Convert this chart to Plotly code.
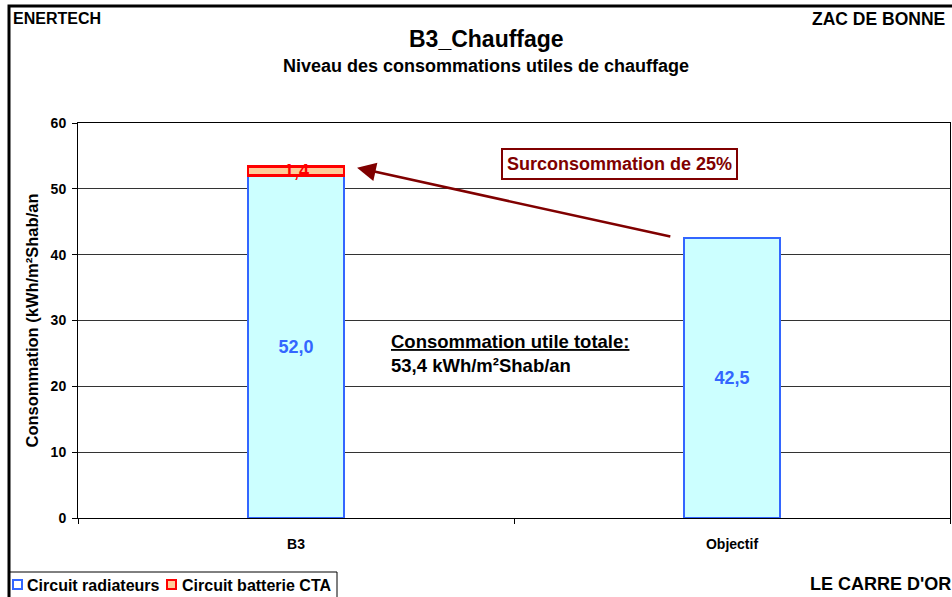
import plotly.graph_objects as go

categories = ["B3", "Objectif"]
series_names = ["Circuit radiateurs", "Circuit batterie CTA"]
radiateurs = [52.0, 42.5]
batterie_cta = [1.4, None]
y_ticks = [0, 10, 20, 30, 40, 50, 60]

title = "B3_Chauffage"
subtitle = "Niveau des consommations utiles de chauffage"
y_title = "Consommation (kWh/m²Shab/an"
total_label = "<u>Consommation utile totale:</u><br>53,4 kWh/m²Shab/an"
surconso_label = "Surconsommation de 25%"

W, H = 952, 597
L, R, T, B = 78, 950, 123, 518


def px(x):
    return (x - L) / (R - L)


def py(y):
    return (B - y) / (B - T)


FONT = "Liberation Sans, Arial, sans-serif"
BLUE = "#3366FF"
RED = "#FF0000"
DARKRED = "#800000"

fig = go.Figure()
fig.add_trace(go.Bar(
    x=categories, y=radiateurs, name=series_names[0],
    marker=dict(color="#CCFFFF", line=dict(color=BLUE, width=2.5)),
    texttemplate="%{y:.1f}", textposition="inside", insidetextanchor="middle",
    textfont=dict(color=BLUE, size=18, family=FONT, weight="bold"),
    constraintext="none", showlegend=False, cliponaxis=False,
))
fig.add_trace(go.Bar(
    x=categories, y=batterie_cta, name=series_names[1],
    marker=dict(color="#FFCC99", line=dict(color=RED, width=2.5)),
    textposition="none", showlegend=False,
))

fig.update_layout(
    width=W, height=H,
    margin=dict(l=L, r=W - R, t=T, b=H - B, pad=0),
    paper_bgcolor="white", plot_bgcolor="white",
    barmode="stack", bargap=0.78,
    separators=", ",
    font=dict(family=FONT, size=14, color="black", weight="bold"),
)
fig.update_xaxes(
    showline=True, linecolor="black", linewidth=1, mirror=True,
    ticks="outside", ticklen=5, tickcolor="black", tickson="boundaries",
    tickfont=dict(size=14, family=FONT, weight="bold"),
    ticklabelstandoff=13,
    showgrid=False,
)
fig.update_yaxes(
    range=[0, 60], tickvals=y_ticks,
    showline=True, linecolor="black", linewidth=1, mirror=True,
    ticks="outside", ticklen=5, tickcolor="black",
    tickfont=dict(size=14, family=FONT, weight="bold"),
    ticklabelstandoff=3,
    showgrid=True, gridcolor="#333333", gridwidth=1,
    zeroline=False,
    title=dict(text=y_title, font=dict(size=16.5, family=FONT, weight="bold"), standoff=7),
)

ann = []
# CTA segment value label
for cat, base, val in zip(categories, radiateurs, batterie_cta):
    if val:
        ann.append(dict(text=f"{val:.1f}".replace(".", ","), x=cat, y=base + val / 2,
                        xref="x", yref="y", showarrow=False, yanchor="middle",
                        font=dict(size=18, color=RED, weight="bold")))

# titles and corner texts
ann.append(dict(text=title, x=px(486), y=py(39), xref="paper", yref="paper",
                xanchor="center", yanchor="middle",
                showarrow=False, font=dict(size=23, weight="bold")))
ann.append(dict(text=subtitle, x=px(486), y=py(66), xref="paper", yref="paper",
                xanchor="center", yanchor="middle",
                showarrow=False, font=dict(size=18, weight="bold")))
ann.append(dict(text="ENERTECH", x=px(11), y=py(19), xref="paper", yref="paper",
                xanchor="left", yanchor="middle", showarrow=False, font=dict(size=16, weight="bold")))
ann.append(dict(text="ZAC DE BONNE", x=px(947), y=py(19), xref="paper", yref="paper",
                xanchor="right", yanchor="middle", showarrow=False, font=dict(size=17.5, weight="bold")))
ann.append(dict(text="LE CARRE D'OR", x=px(808), y=py(584), xref="paper", yref="paper",
                xanchor="left", yanchor="middle", showarrow=False, font=dict(size=18, weight="bold")))

# arrow from Objectif towards B3 total
ann.append(dict(x=0.14, y=53.2, xref="x", yref="y", ax=0.862, ay=42.7, axref="x", ayref="y",
                showarrow=True, arrowhead=2, arrowsize=1.5, arrowwidth=2.5, arrowcolor=DARKRED,
                text=""))
ann.append(dict(text=surconso_label, x=0.741, y=53.8, xref="x", yref="y", showarrow=False,
                xanchor="center", yanchor="middle",
                font=dict(size=18, color=DARKRED, weight="bold"),
                bordercolor=DARKRED, borderwidth=2, borderpad=4, bgcolor="white"))
ann.append(dict(text=total_label, x=px(389), y=py(353), xref="paper", yref="paper",
                xanchor="left", yanchor="middle", align="left", showarrow=False,
                font=dict(size=18.5, color="black", weight="bold")))

# manual legend
ann.append(dict(text=series_names[0], x=px(25), y=py(585), xref="paper", yref="paper",
                xanchor="left", yanchor="middle", showarrow=False, font=dict(size=16, weight="bold")))
ann.append(dict(text=series_names[1], x=px(180), y=py(585), xref="paper", yref="paper",
                xanchor="left", yanchor="middle", showarrow=False, font=dict(size=16, weight="bold")))
fig.update_layout(annotations=ann)

shapes = []
# outer frame
shapes.append(dict(type="rect", xref="paper", yref="paper",
                   x0=px(9), y0=py(700), x1=px(1100), y1=py(6),
                   line=dict(color="black", width=3), fillcolor="rgba(0,0,0,0)", layer="above"))
# legend box
shapes.append(dict(type="rect", xref="paper", yref="paper",
                   x0=px(10), y0=py(600), x1=px(337), y1=py(572),
                   line=dict(color="black", width=1), fillcolor="white"))
shapes.append(dict(type="rect", xref="paper", yref="paper",
                   x0=px(13), y0=py(589), x1=px(22), y1=py(580),
                   line=dict(color=BLUE, width=2), fillcolor="white"))
shapes.append(dict(type="rect", xref="paper", yref="paper",
                   x0=px(167), y0=py(589), x1=px(176), y1=py(580),
                   line=dict(color=RED, width=2), fillcolor="#FFCC99"))
fig.update_layout(shapes=shapes)

fig.write_html("out.html", config={"displayModeBar": False},
               post_script="document.body.style.margin='0';document.body.style.overflow='hidden';")
